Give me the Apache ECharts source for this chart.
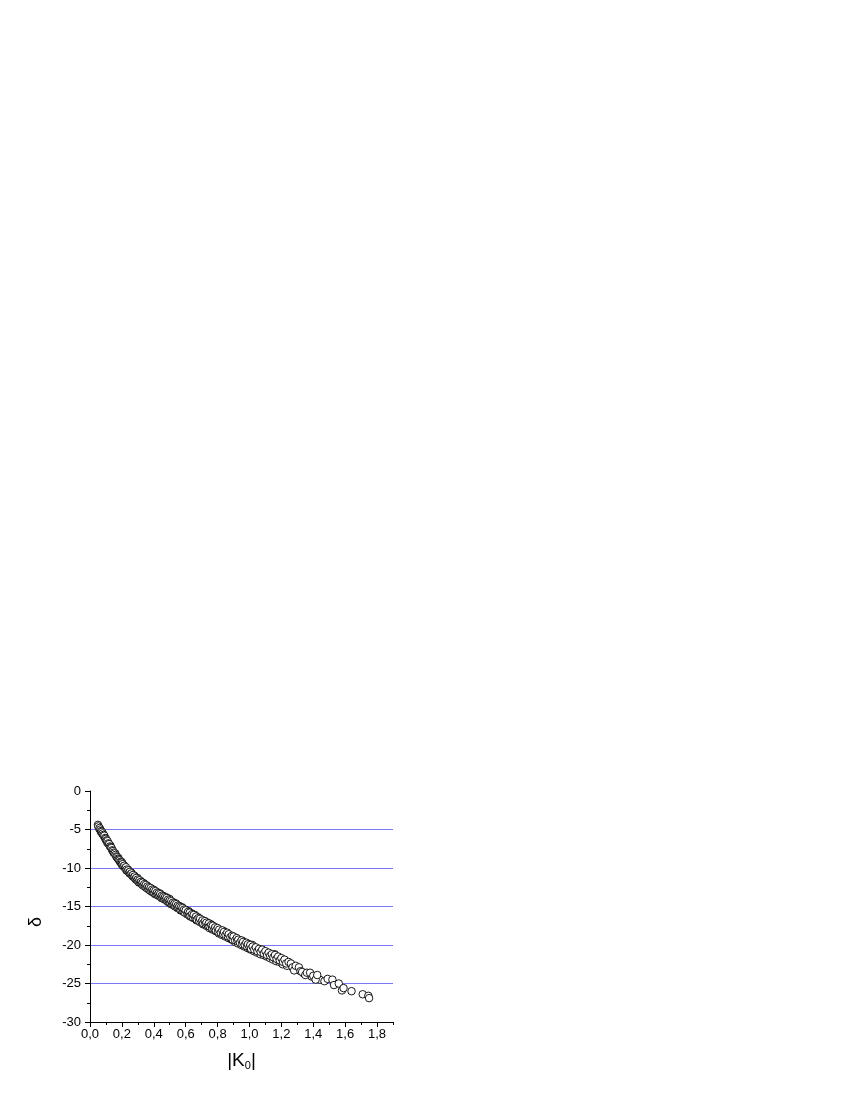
<!DOCTYPE html>
<html>
<head>
<meta charset="utf-8">
<script src="https://cdn.jsdelivr.net/npm/echarts@6/dist/echarts.min.js"></script>
<style>
html,body{margin:0;padding:0;background:#fff;}
#chart{width:850px;height:1100px;}
</style>
</head>
<body>
<div id="chart"></div>
<script>
// |K0| values (x), first group
var kVals = [
0.05,0.052,0.06,0.065,0.07,0.075,0.08,0.085,0.09,0.095,
0.10,0.105,0.11,0.115,0.12,0.125,0.13,0.135,0.14,0.145,
0.15,0.155,0.16,0.165,0.17,0.175,0.18,0.185,0.19,0.195,
0.20,0.20,0.205,0.21,0.215,0.22,0.225,0.23,0.235,0.24,
0.245,0.25,0.255,0.26,0.265,0.27,0.275,0.28,0.285,0.29,
0.295,0.30,0.305,0.31,0.315,0.32,0.325,0.33,0.335,0.34,
0.345,0.35,0.355,0.36,0.365,0.37,0.375,0.38,0.385,0.39,
0.395,0.40,0.405,0.41,0.415,0.42,0.425,0.43,0.435,0.44,
0.445,0.45,0.455,0.46,0.465,0.47,0.475,0.48,0.485,0.49,
0.495,0.50,0.505,0.51,0.515,0.52,0.525,0.53,0.535,0.54,
0.545,0.55,0.555,0.56,0.565,0.57,0.575,0.58,0.585,0.59,
0.595,0.60,0.61,0.615,0.62,0.625,0.63,0.64,0.645,0.65,
0.66,0.665,0.67,0.68,0.685,0.69,0.70,0.705,0.71,0.72,
0.725,0.73,0.74,0.745,0.75,0.76,0.765,0.77,0.78,0.785,
0.79,0.80,0.805,0.81,0.82,0.83,0.835,0.84,0.85,0.86,
0.865,0.87,0.88,0.89,0.895,0.90,0.91,0.92,0.925,0.93,
0.94,0.95,0.955,0.96,0.97,0.98,0.985,0.99,1.00,1.005,
1.01,1.02,1.03,1.04,1.05,1.06,1.07,1.08,1.09,1.10,
1.11,1.12,1.13,1.14,1.15,1.16,1.17,1.18,1.19,1.20,
1.21,1.22,1.23,1.245,1.26,1.27,1.28,1.29,1.31,1.32,
1.33,1.35,1.36,1.38,1.40,1.415,1.425,1.47,1.49,1.52,
1.53,1.56,1.58,1.59,1.64,1.71,1.745,1.75
];
// delta values (y), first group
var deltaVals = [
-4.4,-4.6,-4.8,-5.0,-5.2,-5.3,-5.5,-5.7,-5.8,-6.1,
-6.2,-6.4,-6.5,-6.8,-6.9,-7.2,-7.3,-7.4,-7.7,-7.8,
-8.0,-8.1,-8.3,-8.5,-8.6,-8.8,-8.9,-9.0,-9.2,-9.3,
-9.3,-9.6,-9.5,-9.8,-9.7,-10.0,-9.9,-10.2,-10.4,-10.3,
-10.6,-10.5,-10.8,-10.7,-11.0,-10.9,-11.2,-11.1,-11.4,-11.3,
-11.6,-11.5,-11.8,-11.6,-11.9,-11.8,-12.1,-11.9,-12.3,-12.1,
-12.4,-12.2,-12.6,-12.4,-12.7,-12.5,-12.9,-12.6,-13.0,-12.8,
-13.1,-12.9,-13.3,-13.0,-13.4,-13.2,-13.5,-13.3,-13.6,-13.4,
-13.8,-13.6,-13.9,-13.7,-14.0,-13.8,-14.1,-13.9,-14.3,-14.1,
-14.4,-14.2,-14.6,-14.3,-14.7,-14.5,-14.8,-14.6,-15.0,-14.7,
-15.1,-14.9,-15.2,-15.0,-15.4,-15.1,-15.5,-15.2,-15.6,-15.4,
-15.8,-15.5,-15.9,-15.7,-16.1,-15.8,-16.2,-16.0,-16.4,-16.1,
-16.5,-16.3,-16.7,-16.5,-16.9,-16.6,-17.0,-16.8,-17.2,-16.9,
-17.3,-17.1,-17.5,-17.2,-17.6,-17.4,-17.8,-17.5,-17.9,-17.7,
-18.1,-17.8,-18.3,-18.0,-18.4,-18.1,-18.6,-18.3,-18.7,-18.4,
-18.9,-18.6,-19.0,-18.8,-19.3,-18.9,-19.4,-19.1,-19.5,-19.3,
-19.7,-19.4,-19.9,-19.6,-20.0,-19.7,-20.2,-19.9,-20.3,-20.0,
-20.5,-20.2,-20.6,-20.3,-20.8,-20.5,-20.9,-20.6,-21.1,-20.8,
-21.3,-21.0,-21.4,-21.2,-21.6,-21.3,-21.8,-21.5,-22.0,-21.7,
-22.2,-21.9,-22.4,-22.2,-22.4,-22.9,-23.3,-22.7,-22.9,-23.4,
-23.5,-23.9,-23.6,-23.6,-24.0,-24.5,-23.9,-24.7,-24.4,-24.5,
-25.2,-25.0,-25.9,-25.6,-26.0,-26.4,-26.6,-26.9
];
// |K0| values (x), second group
var kVals2 = [
0.058,0.068,0.078,0.088,0.098,0.108,0.118,0.128,0.138,0.148,
0.158,0.168,0.178,0.188,0.198,0.208,0.218,0.228,0.238,0.248,
0.258,0.268,0.278,0.288,0.298,0.308,0.318,0.328,0.338,0.348,
0.358,0.368,0.378,0.388,0.398,0.408,0.418,0.428,0.438,0.448,
0.458,0.468,0.478,0.488,0.498,0.508,0.518,0.528,0.538,0.548,
0.558,0.568,0.578,0.588,0.598,0.608,0.618,0.628,0.638,0.648,
0.658,0.668,0.678,0.688,0.698,0.708,0.718,0.728,0.738,0.748,
0.758,0.768,0.778,0.788,0.798,0.808,0.818,0.828,0.838,0.848,
0.858,0.868,0.878,0.888,0.898,0.908,0.918,0.928,0.938,0.948,
0.958,0.968,0.978,0.988,0.998,1.008,1.018,1.028,1.038,1.048,
1.058,1.068,1.078,1.088,1.098,1.108,1.118,1.128,1.138,1.148,
1.158,1.168,1.178,1.188,1.198,1.208,1.218,1.235,1.25,1.265,
1.30,1.34,1.39,1.44
];
// delta values (y), second group
var deltaVals2 = [
-4.9,-5.3,-5.6,-5.9,-6.3,-6.7,-6.9,-7.1,-7.6,-8.0,
-8.1,-8.6,-8.7,-9.2,-9.2,-9.7,-9.8,-10.3,-10.2,-10.7,
-10.6,-11.1,-11.0,-11.5,-11.3,-11.9,-11.7,-12.2,-12.0,-12.5,
-12.3,-12.8,-12.6,-13.1,-12.8,-13.4,-13.1,-13.6,-13.3,-13.9,
-13.6,-14.1,-13.8,-14.4,-14.0,-14.7,-14.4,-14.9,-14.6,-15.2,
-14.9,-15.5,-15.1,-15.7,-15.4,-16.0,-15.6,-16.3,-15.9,-16.5,
-16.1,-16.8,-16.4,-17.0,-16.7,-17.3,-16.9,-17.5,-17.1,-17.8,
-17.3,-18.0,-17.6,-18.2,-17.9,-18.5,-18.1,-18.7,-18.2,-18.9,
-18.5,-19.1,-18.8,-19.3,-19.0,-19.6,-19.2,-19.8,-19.4,-20.0,
-19.5,-20.2,-19.8,-20.4,-19.9,-20.6,-20.0,-20.8,-20.4,-21.0,
-20.6,-21.2,-20.7,-21.3,-21.0,-21.5,-21.1,-21.7,-21.3,-21.9,
-21.2,-22.1,-21.6,-22.2,-21.8,-22.5,-22.0,-22.7,-22.3,-22.6,
-23.1,-23.7,-24.1,-24.5
];
var xMajorTicks = [0, 0.2, 0.4, 0.6, 0.8, 1.0, 1.2, 1.4, 1.6, 1.8];

var points = [];
var i;
for (i = 0; i < kVals2.length; i++) points.push([kVals2[i], deltaVals2[i]]);
for (i = 0; i < kVals.length; i++) points.push([kVals[i], deltaVals[i]]);

var FONT = 'Liberation Sans, Arial, sans-serif';
var G = {left: 90, top: 791, width: 303, height: 231, containLabel: false};
var chart = echarts.init(document.getElementById('chart'), null, {renderer: 'canvas'});
chart.setOption({
  animation: false,
  backgroundColor: '#ffffff',
  grid: [G, {left: G.left, top: G.top, width: G.width, height: G.height, containLabel: false}],
  xAxis: [
    {
      type: 'value', gridIndex: 0, position: 'bottom', min: 0, max: 1.9,
      axisLine: {show: true, onZero: false, lineStyle: {color: '#000', width: 1}},
      axisTick: {show: true, length: 5, customValues: xMajorTicks, lineStyle: {color: '#000'}},
      axisLabel: {show: true, customValues: xMajorTicks, margin: 6, color: '#000', fontFamily: FONT, fontSize: 13,
        formatter: function (v) { return v.toFixed(1).replace('.', ','); }},
      splitLine: {show: false}
    },
    {
      type: 'value', gridIndex: 1, position: 'bottom', min: 0, max: 1.9, interval: 0.1,
      axisLine: {show: false, onZero: false},
      axisTick: {show: true, length: 3, lineStyle: {color: '#000'}},
      axisLabel: {show: false},
      splitLine: {show: false}
    }
  ],
  yAxis: [
    {
      type: 'value', gridIndex: 0, min: -30, max: 0, interval: 5,
      axisLine: {show: true, onZero: false, lineStyle: {color: '#000', width: 1}},
      axisTick: {show: true, length: 5, lineStyle: {color: '#000'}},
      minorTick: {show: true, splitNumber: 2, length: 3, lineStyle: {color: '#000'}},
      axisLabel: {margin: 9, color: '#000', fontFamily: FONT, fontSize: 13},
      splitLine: {show: true, showMinLine: false, showMaxLine: false, lineStyle: {color: '#7878f0', width: 1}}
    },
    {
      type: 'value', gridIndex: 1, min: -30, max: 0, show: false
    }
  ],
  graphic: [
    {type: 'text', x: 36, y: 922, rotation: Math.PI / 2,
      style: {text: 'δ', font: '18px ' + FONT, fill: '#000', align: 'center', verticalAlign: 'middle'}},
    {type: 'text', x: 241.5, y: 1061,
      style: {
        text: '|K{s|0}|',
        rich: {s: {fontSize: 11, fontFamily: FONT, fill: '#000', padding: [10, 0, 0, 0]}},
        fontSize: 19, fontFamily: FONT, fill: '#000', align: 'center', verticalAlign: 'middle'
      }}
  ],
  series: [{
    type: 'scatter',
    xAxisIndex: 0,
    yAxisIndex: 0,
    data: points,
    symbol: 'circle',
    symbolSize: 7.5,
    itemStyle: {color: '#ffffff', borderColor: '#000000', borderWidth: 0.9, opacity: 1}
  }]
});
</script>
</body>
</html>
